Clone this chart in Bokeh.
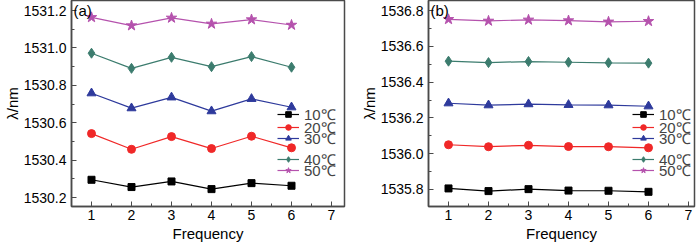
from bokeh.plotting import figure
from bokeh.layouts import row
from bokeh.models import FixedTicker, PrintfTickFormatter, Legend, LegendItem, Label, Range1d
from bokeh.embed import file_html
from bokeh.resources import INLINE

frequency = [1, 2, 3, 4, 5, 6]
labels = ["10℃", "20℃", "30℃", "40℃", "50℃"]

# panel (a)
a_10 = [1530.295, 1530.256, 1530.286, 1530.245, 1530.277, 1530.263]
a_20 = [1530.542, 1530.458, 1530.526, 1530.462, 1530.528, 1530.466]
a_30 = [1530.758, 1530.678, 1530.736, 1530.662, 1530.728, 1530.683]
a_40 = [1530.972, 1530.891, 1530.950, 1530.900, 1530.954, 1530.897]
a_50 = [1531.164, 1531.120, 1531.161, 1531.129, 1531.152, 1531.123]

# panel (b)
b_10 = [1535.806, 1535.791, 1535.802, 1535.794, 1535.793, 1535.787]
b_20 = [1536.050, 1536.039, 1536.047, 1536.040, 1536.039, 1536.033]
b_30 = [1536.282, 1536.271, 1536.277, 1536.273, 1536.271, 1536.265]
b_40 = [1536.517, 1536.509, 1536.515, 1536.511, 1536.508, 1536.506]
b_50 = [1536.751, 1536.742, 1536.748, 1536.744, 1536.737, 1536.740]

a_yticks = [1530.2, 1530.4, 1530.6, 1530.8, 1531.0, 1531.2]
b_yticks = [1535.8, 1536.0, 1536.2, 1536.4, 1536.6, 1536.8]
xticks = [1, 2, 3, 4, 5, 6, 7]

colors = ["#000000", "#f02828", "#2e3a9c", "#3c7c6e", "#b552ad"]
markers = ["square", "circle", "triangle", "diamond", "star"]
msizes = [7, 8, 9, 10, 11]

FONT = "Liberation Sans"
FRAME = "#4a4a4a"

# legend item centres measured from the frame top (px)
LEG_CENTRES = [114, 127, 138, 159, 170]
ITEM_H = 20


def make_panel(series, yticks, yr, xr, tag, fw, border_left, border_right, leg_x):
    p = figure(frame_width=fw, frame_height=206, output_backend="svg", toolbar_location=None,
               x_range=Range1d(*xr), y_range=Range1d(*yr),
               min_border_left=border_left, min_border_right=border_right,
               min_border_top=0, min_border_bottom=36)
    p.background_fill_color = "white"
    p.border_fill_color = "white"
    p.outline_line_color = FRAME
    p.outline_line_width = 1.5
    p.xgrid.visible = False
    p.ygrid.visible = False

    for vals, lab, c, m, s, cy in zip(series, labels, colors, markers, msizes, LEG_CENTRES):
        r1 = p.line(frequency, vals, line_color=c, line_width=1.2)
        r2 = p.scatter(frequency, vals, marker=m, size=s, fill_color=c, line_color=c)
        leg = Legend(items=[LegendItem(label=lab, renderers=[r1, r2])],
                     location=(leg_x, 206 - cy - ITEM_H // 2), padding=0, margin=0, spacing=0,
                     background_fill_alpha=0, border_line_alpha=0,
                     glyph_width=22, glyph_height=14, label_standoff=5,
                     label_text_font=FONT, label_text_font_size="15px", label_height=14)
        p.add_layout(leg, "center")

    mid = [(yticks[i] + yticks[i + 1]) / 2 for i in range(len(yticks) - 1)]
    mid = [yticks[0] - 0.1] + mid + [yticks[-1] + 0.1]
    p.yaxis.ticker = FixedTicker(ticks=yticks, minor_ticks=mid)
    p.yaxis.formatter = PrintfTickFormatter(format="%.1f")
    p.xaxis.ticker = FixedTicker(ticks=xticks, minor_ticks=[x + 0.5 for x in xticks])

    for ax in (p.xaxis[0], p.yaxis[0]):
        ax.major_tick_in = 5
        ax.major_tick_out = 0
        ax.minor_tick_in = 3
        ax.minor_tick_out = 0
        ax.axis_line_color = FRAME
        ax.axis_line_width = 1.5
        ax.major_tick_line_color = FRAME
        ax.minor_tick_line_color = FRAME
        ax.major_label_text_font = FONT
        ax.major_label_text_font_size = "14px"
        ax.major_label_text_color = "black"
        ax.axis_label_text_font = FONT
        ax.axis_label_text_font_size = "15px"
        ax.axis_label_text_font_style = "normal"
        ax.axis_label_text_color = "black"

    p.xaxis.axis_label = "Frequency"
    p.xaxis.major_label_standoff = 3
    p.xaxis.axis_label_standoff = 2
    p.yaxis.axis_label = "λ/nm"
    p.yaxis.major_label_standoff = 5
    p.yaxis.axis_label_standoff = 0

    p.add_layout(Label(x=xr[0], y=yr[1], text=tag, x_offset=2, y_offset=-1,
                       text_baseline="top", text_font=FONT, text_font_size="15px",
                       text_color="black"))
    return p


p1 = make_panel([a_10, a_20, a_30, a_40, a_50], a_yticks, (1530.152, 1531.254), (0.5, 7.325),
                "(a)", 273, 70, 7, 206)
p2 = make_panel([b_10, b_20, b_30, b_40, b_50], b_yticks, (1535.705, 1536.856), (0.5, 7.15),
                "(b)", 266, 77, 7, 204)

layout = row(p1, p2)
open("out.html", "w").write(file_html(layout, INLINE))
